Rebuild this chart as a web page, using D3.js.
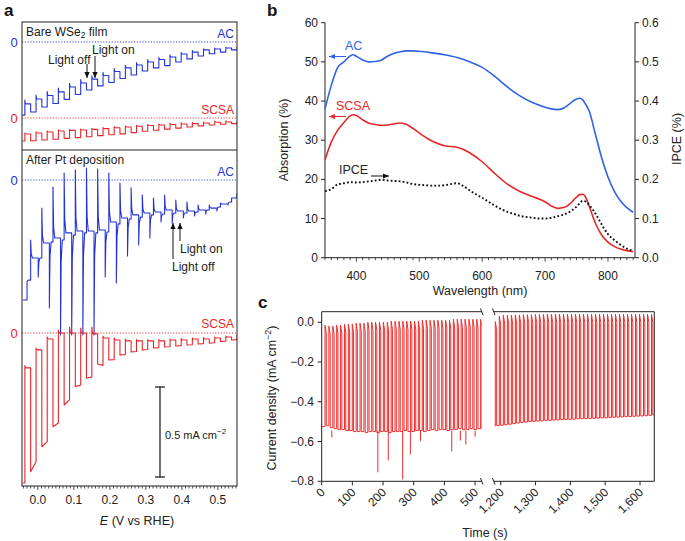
<!DOCTYPE html>
<html><head><meta charset="utf-8">
<script src="https://cdnjs.cloudflare.com/ajax/libs/d3/7.8.5/d3.min.js"></script>
<style>body{margin:0;background:#fff}svg{font-family:"Liberation Sans",Arial,sans-serif}</style>
</head><body><svg id="c" width="685" height="541"></svg>
<script>
// ---------- Panel a data (mA cm^-2 relative to each trace's zero) ----------
const chopE = [-0.036,-0.005,0.026,0.057,0.088,0.119,0.150,0.181,0.212,0.243,0.274,0.305,0.336,0.367,0.398,0.429,0.460,0.491,0.522];
const aTicks = [0.0,0.1,0.2,0.3,0.4,0.5];
// Bare WSe2, AC
const bareAcPeak  = [-0.322,-0.295,-0.275,-0.256,-0.23,-0.208,-0.188,-0.169,-0.148,-0.129,-0.114,-0.098,-0.085,-0.072,-0.058,-0.048,-0.038,-0.034,-0.029];
const bareAcDark  = [-0.344,-0.317,-0.297,-0.277,-0.25,-0.228,-0.206,-0.186,-0.164,-0.144,-0.128,-0.111,-0.097,-0.083,-0.067,-0.056,-0.044,-0.039,-0.033];
const bareAcLight = [-0.389,-0.361,-0.342,-0.319,-0.292,-0.267,-0.244,-0.225,-0.203,-0.183,-0.161,-0.144,-0.131,-0.111,-0.094,-0.078,-0.065,-0.056,-0.044];
const bareAcEnds = [-0.406,-0.028];
// Bare WSe2, SCSA
const bareScDark  = [-0.089,-0.083,-0.078,-0.072,-0.069,-0.067,-0.063,-0.059,-0.054,-0.05,-0.046,-0.042,-0.039,-0.036,-0.033,-0.031,-0.028,-0.024,-0.022];
const bareScLight = [-0.126,-0.122,-0.118,-0.113,-0.109,-0.104,-0.098,-0.093,-0.088,-0.081,-0.074,-0.068,-0.062,-0.056,-0.05,-0.044,-0.039,-0.035,-0.031];
const bareScEnds = [-0.128,-0.018];
// After Pt, AC
const ptAcDepth = [-0.567,-0.539,-0.711,-0.861,-0.861,-0.861,-0.861,-0.539,-0.572,-0.422,-0.361,-0.322,-0.233,-0.239,-0.211,-0.2,-0.189,-0.172,-0.139];
const ptAcLight = [-0.556,-0.433,-0.344,-0.333,-0.306,-0.294,-0.294,-0.289,-0.244,-0.217,-0.206,-0.194,-0.189,-0.183,-0.183,-0.178,-0.167,-0.15,-0.122];
const ptAcTip   = [-0.333,-0.156,-0.039,0.039,0.056,0.067,0.061,0.039,-0.017,-0.044,-0.083,-0.1,-0.083,-0.111,-0.122,-0.139,-0.139,-0.128,-0.1];
const ptAcDark  = [-0.433,-0.35,-0.322,-0.294,-0.283,-0.283,-0.278,-0.233,-0.211,-0.194,-0.183,-0.178,-0.167,-0.172,-0.172,-0.167,-0.156,-0.133,-0.1];
const ptAcEnds = [-0.667,-0.072];
// After Pt, SCSA
const ptScPeak  = [-0.180,-0.083,-0.022,0.017,0.033,0.028,0.033,-0.017,-0.028,-0.033,-0.036,-0.036,-0.036,-0.033,-0.031,-0.028,-0.025,-0.022,-0.017];
const ptScDark  = [-0.194,-0.094,-0.033,0.0,0.0,0.0,-0.005,-0.028,-0.039,-0.044,-0.044,-0.044,-0.044,-0.039,-0.039,-0.033,-0.033,-0.028,-0.022];
const ptScLightStart = [-0.771,-0.632,-0.521,-0.40,-0.298,-0.25,-0.172,-0.15,-0.122,-0.105,-0.094,-0.083,-0.078,-0.072,-0.067,-0.061,-0.056,-0.047,-0.039];
const ptScLightEnd   = [-0.715,-0.604,-0.50,-0.372,-0.289,-0.245,-0.18,-0.148,-0.12,-0.103,-0.092,-0.081,-0.076,-0.07,-0.065,-0.059,-0.054,-0.045,-0.037];
const ptScEnds = [-0.833,-0.011];

// ---------- Panel b data ----------
const wl = [350,360,370,380,390,395,400,410,420,430,440,450,460,470,480,490,500,520,540,560,580,600,620,640,660,680,700,710,720,730,740,750,755,760,765,770,780,790,800,810,820,830,840];
const absAC = [38,44,48.5,50,51.5,51.8,51.4,50.5,50.0,50.1,50.5,51.5,52.2,52.6,52.8,52.8,52.7,52.3,51.8,51.1,50.0,48.6,46.3,43.6,41.3,39.6,38.4,38.0,37.8,38.2,39.4,40.5,40.7,40.3,39.0,37.5,31.5,25.5,20.6,17,14.5,12.8,11.6];
const absSC = [25,29.5,32.5,34.5,36.2,36.5,36.3,35.2,34.3,34.0,33.8,33.9,34.2,34.4,34.0,33.0,31.8,29.8,28.6,28.2,26.8,24.5,21.5,18.8,16.9,15.6,14.3,13.2,12.6,12.8,13.8,15.5,16.1,16.2,15.3,13.2,8.8,5.8,4.0,2.9,2.2,1.8,1.5];
const ipceWl = [350,360,370,380,390,400,410,420,430,440,450,460,470,480,490,500,510,520,530,540,550,560,570,580,590,600,610,620,630,640,650,660,670,680,690,700,710,720,730,740,750,760,765,770,780,790,800,810,820,830,840];
const ipce = [0.17,0.175,0.187,0.19,0.193,0.192,0.193,0.195,0.197,0.199,0.197,0.196,0.195,0.192,0.188,0.186,0.185,0.184,0.184,0.185,0.188,0.19,0.183,0.172,0.162,0.153,0.143,0.133,0.124,0.117,0.112,0.107,0.104,0.102,0.1,0.1,0.102,0.106,0.11,0.118,0.13,0.145,0.143,0.135,0.113,0.085,0.06,0.045,0.033,0.023,0.018];
const bAbsTicks = [0,10,20,30,40,50,60];
const bIpceTicks = [0,0.1,0.2,0.3,0.4,0.5,0.6];
const bWlTicks = [400,500,600,700,800];

// ---------- Panel c data ----------
const cLeftT = [10.8,23.5,36.2,48.8,61.5,74.2,86.9,99.6,112.2,124.9,137.6,150.3,163.0,175.6,188.3,201.0,213.7,226.4,239.0,251.7,264.4,277.1,289.8,302.4,315.1,327.8,340.5,353.2,365.8,378.5,391.2,403.9,416.6,429.2,441.9,454.6,467.3,480.0,492.6,505.3,518.0];
const cLeftHigh = [-0.015,-0.02,-0.02,-0.015,-0.015,-0.01,-0.01,-0.01,-0.005,-0.005,-0.005,0,0,0,0,0,0,0.005,0.005,0.005,0.005,0.005,0.005,0.005,0.005,0.01,0.01,0.01,0.01,0.01,0.01,0.01,0.01,0.015,0.015,0.015,0.015,0.015,0.015,0.015,0.015];
const cLeftLow = [-0.52,-0.53,-0.535,-0.54,-0.54,-0.545,-0.545,-0.55,-0.55,-0.55,-0.555,-0.55,-0.55,-0.555,-0.55,-0.55,-0.555,-0.55,-0.55,-0.55,-0.545,-0.55,-0.55,-0.545,-0.545,-0.55,-0.545,-0.54,-0.545,-0.54,-0.54,-0.545,-0.54,-0.54,-0.535,-0.54,-0.54,-0.535,-0.54,-0.535,-0.54];
const cSpikeT = [33,183,217,264,289,322,424,452,470,500];
const cSpikeV = [-0.58,-0.755,-0.695,-0.79,-0.665,-0.598,-0.65,-0.595,-0.615,-0.576];
const cRightT = [1184.5,1196.0,1207.5,1219.0,1230.5,1242.0,1253.5,1265.0,1276.5,1288.0,1299.5,1311.0,1322.5,1334.0,1345.5,1357.0,1368.5,1380.0,1391.5,1403.0,1414.5,1426.0,1437.5,1449.0,1460.5,1472.0,1483.5,1495.0,1506.5,1518.0,1529.5,1541.0,1552.5,1564.0,1575.5,1587.0,1598.5,1610.0,1621.5,1633.0];
const cRightHigh = [0.003,0.03,0.035,0.035,0.036,0.037,0.037,0.038,0.038,0.038,0.039,0.039,0.039,0.04,0.04,0.04,0.04,0.04,0.04,0.04,0.04,0.04,0.04,0.04,0.04,0.04,0.04,0.04,0.04,0.04,0.04,0.04,0.04,0.04,0.04,0.04,0.04,0.04,0.04,0.04];
const cRightLow = [-0.52,-0.518,-0.516,-0.513,-0.51,-0.507,-0.504,-0.502,-0.5,-0.498,-0.497,-0.496,-0.494,-0.493,-0.492,-0.491,-0.49,-0.489,-0.488,-0.487,-0.486,-0.485,-0.485,-0.484,-0.483,-0.482,-0.481,-0.48,-0.479,-0.478,-0.477,-0.476,-0.475,-0.474,-0.473,-0.472,-0.471,-0.47,-0.468,-0.466];
const cYTicks = [-0.8,-0.6,-0.4,-0.2,0.0];
const cLeftTicks = [0,100,200,300,400,500];
const cRightTicks = [1200,1300,1400,1500,1600];

// ---------- drawing ----------
const svg = d3.select("#c");
const BLUE = "#2433d4", RED = "#e8262a", BBLUE = "#2e63e8";
const defs = svg.append("defs");
function clip(id,x,y,w,h){defs.append("clipPath").attr("id",id).append("rect").attr("x",x).attr("y",y).attr("width",w).attr("height",h);}
function text(x,y,s,o={}){
  const t = svg.append("text").attr("x",x).attr("y",y).text(s)
    .attr("font-size",o.size||12).attr("fill",o.fill||"#222")
    .attr("text-anchor",o.anchor||"start").attr("dominant-baseline","central");
  if(o.weight) t.attr("font-weight",o.weight);
  if(o.transform) t.attr("transform",o.transform);
  return t;
}
function seg(x1,y1,x2,y2,c="#222",w=1){svg.append("line").attr("x1",x1).attr("y1",y1).attr("x2",x2).attr("y2",y2).attr("stroke",c).attr("stroke-width",w);}
function arrow(x1,y1,x2,y2,c="#111"){
  seg(x1,y1,x2,y2,c,1);
  const a=Math.atan2(y2-y1,x2-x1), L=6, W=2.6;
  const p=[[x2,y2],[x2-L*Math.cos(a)+W*Math.sin(a), y2-L*Math.sin(a)-W*Math.cos(a)],[x2-L*Math.cos(a)-W*Math.sin(a), y2-L*Math.sin(a)+W*Math.cos(a)]];
  svg.append("path").attr("d","M"+p.join("L")+"Z").attr("fill",c);
}

// ===== Panel a =====
const xA = d3.scaleLinear().domain([-0.044,0.553]).range([22,237]);
const yZero = z => d3.scaleLinear().domain([0,-1]).range([z, z+180]);
const yTopAC = yZero(42), yTopSC = yZero(118), yBotAC = yZero(180), yBotSC = yZero(333);
clip("clipATop",22,22,215,128); clip("clipABot",22,150,215,336);

function chopPath(startE,startV,events,endE,endV,dec){
  const pts=[[startE,startV]]; let cur=startV;
  events.forEach(ev=>{
    pts.push([ev.e,cur]); pts.push([ev.e,ev.spike]);
    if(ev.spike!==ev.level){ pts.push([ev.e+dec*0.35, ev.level+(ev.spike-ev.level)*0.22]); pts.push([ev.e+dec, ev.level]); }
    cur = (ev.levelEnd!==undefined)? ev.levelEnd : ev.level;
  });
  pts.push([endE,cur]); pts.push([endE,endV]);
  return pts;
}
function drawTrace(pts,ys,color,clipId,w=1.1){
  svg.append("path").attr("d", d3.line().x(d=>xA(d[0])).y(d=>ys(d[1]))(pts))
    .attr("fill","none").attr("stroke",color).attr("stroke-width",w).attr("stroke-linejoin","round")
    .attr("clip-path","url(#"+clipId+")");
}
// zero lines
[[yTopAC,BLUE],[yTopSC,RED],[yBotAC,BLUE],[yBotSC,RED]].forEach(([ys,c])=>{
  svg.append("line").attr("x1",22).attr("x2",237).attr("y1",ys(0)).attr("y2",ys(0))
    .attr("stroke",c).attr("stroke-width",0.9).attr("stroke-dasharray","1.2,1.6");
  text(14, ys(0), "0", {fill:c, size:13, anchor:"middle"});
});
// traces
let ev=[];
chopE.forEach((e,i)=>{ev.push({e:e,spike:bareAcPeak[i],level:bareAcDark[i]});ev.push({e:e+0.016,spike:bareAcLight[i],level:bareAcLight[i]});});
drawTrace(chopPath(-0.043,bareAcEnds[0],ev,0.553,bareAcEnds[1],0.003),yTopAC,BLUE,"clipATop");
ev=[];
chopE.forEach((e,i)=>{ev.push({e:e,spike:bareScDark[i]+0.006,level:bareScDark[i]});ev.push({e:e+0.016,spike:bareScLight[i],level:bareScLight[i]});});
drawTrace(chopPath(-0.043,bareScEnds[0],ev,0.553,bareScEnds[1],0.006),yTopSC,RED,"clipATop");
ev=[];
chopE.forEach((e,i)=>{ev.push({e:e+0.006,spike:ptAcDepth[i],level:ptAcLight[i]});ev.push({e:e+0.016,spike:ptAcTip[i],level:ptAcDark[i]});});
drawTrace(chopPath(-0.042,ptAcEnds[0],ev,0.553,ptAcEnds[1],0.005),yBotAC,BLUE,"clipABot");
ev=[];
chopE.forEach((e,i)=>{ev.push({e:e,spike:ptScPeak[i],level:ptScDark[i]});ev.push({e:e+0.016,spike:ptScLightStart[i],level:ptScLightStart[i],levelEnd:ptScLightEnd[i]});});
drawTrace(chopPath(-0.042,ptScEnds[0],ev,0.553,ptScEnds[1],0.004),yBotSC,RED,"clipABot");

// frame
svg.append("rect").attr("x",22).attr("y",22).attr("width",215).attr("height",464).attr("fill","none").attr("stroke","#222").attr("stroke-width",1);
seg(22,150,237,150);
// x axis ticks
d3.range(-4,56).forEach(k=>{ const v=k/100, x=xA(v), major=(k%10===0); seg(x,486,x,486+(major?4:2.5),"#222",0.8); });
aTicks.forEach(v=>text(xA(v),500,d3.format(".1f")(v),{size:12,anchor:"middle"}));
const et = svg.append("text").attr("x",137).attr("y",521).attr("text-anchor","middle").attr("dominant-baseline","central").attr("font-size",12.5).attr("fill","#222");
et.append("tspan").attr("font-style","italic").text("E");
et.append("tspan").text(" (V vs RHE)");
// annotations
const bt = svg.append("text").attr("x",26).attr("y",32).attr("dominant-baseline","central").attr("font-size",12).attr("fill","#222");
bt.append("tspan").text("Bare WSe");
bt.append("tspan").attr("font-size",8.5).attr("dy",3).text("2");
bt.append("tspan").attr("dy",-3).text(" film");
text(26,160,"After Pt deposition",{size:12});
text(234,34,"AC",{fill:BLUE,anchor:"end",size:12});
text(234,110,"SCSA",{fill:RED,anchor:"end",size:12});
text(234,172,"AC",{fill:BLUE,anchor:"end",size:12});
text(234,324,"SCSA",{fill:RED,anchor:"end",size:12});
text(48,60,"Light off",{size:12});
text(92,50,"Light on",{size:12});
arrow(87,64,87,78); arrow(95,56,95,78);
arrow(173,259,173,223); arrow(180,241,180,223);
text(180,249,"Light on",{size:12});
text(172,267,"Light off",{size:12});
// scale bar (0.5 mA cm-2)
const sb0 = yBotSC(-0.3), sb1 = yBotSC(-0.8);
seg(160,sb0,160,sb1,"#111",1.2); seg(155,sb0,165,sb0,"#111",1.2); seg(155,sb1,165,sb1,"#111",1.2);
const st = svg.append("text").attr("x",165).attr("y",435).attr("dominant-baseline","central").attr("font-size",11).attr("fill","#222");
st.append("tspan").text("0.5 mA cm");
st.append("tspan").attr("font-size",8).attr("dy",-4).text("\u22122");

// ===== Panel b =====
const xB = d3.scaleLinear().domain([350,843]).range([325,635]);
const yB = d3.scaleLinear().domain([0,60]).range([257.7,22.7]);
const yB2 = d3.scaleLinear().domain([0,0.6]).range([257.7,22.7]);
seg(325,22.7,325,257.7); seg(635,22.7,635,257.7); seg(325,257.7,635,257.7);
bAbsTicks.forEach(v=>{ seg(321,yB(v),325,yB(v)); text(318,yB(v),String(v),{size:12,anchor:"end"}); });
bIpceTicks.forEach(v=>{ seg(635,yB2(v),639,yB2(v)); text(642,yB2(v),d3.format(".1f")(v),{size:12}); });
d3.range(350,850,10).forEach(v=>{ const x=xB(v); if(x<=635.5) seg(x,257.7,x,257.7+(v%100===0?4:2.5),"#222",0.8); });
bWlTicks.forEach(v=>text(xB(v),276,String(v),{size:12,anchor:"middle"}));
text(480,291,"Wavelength (nm)",{size:12.5,anchor:"middle"});
text(284,140,"Absorption (%)",{size:12.5,anchor:"middle",transform:"rotate(-90,284,140)"});
text(677,139,"IPCE (%)",{size:12.5,anchor:"middle",transform:"rotate(-90,677,139)"});
const lineB = d3.line().curve(d3.curveMonotoneX);
svg.append("path").attr("d", lineB.x((d,i)=>xB(wl[i])).y(d=>yB(d))(absAC)).attr("fill","none").attr("stroke",BBLUE).attr("stroke-width",1.6);
svg.append("path").attr("d", lineB.x((d,i)=>xB(wl[i])).y(d=>yB(d))(absSC)).attr("fill","none").attr("stroke",RED).attr("stroke-width",1.6);
svg.append("path").attr("d", d3.line().curve(d3.curveMonotoneX).x((d,i)=>xB(ipceWl[i])).y(d=>yB2(d))(ipce)).attr("fill","none").attr("stroke","#111").attr("stroke-width",1.9).attr("stroke-dasharray","1.8,2.2");
text(345,46,"AC",{fill:BBLUE,size:12.5});
arrow(346,56.5,329,56.5,BBLUE);
text(336,106,"SCSA",{fill:RED,size:12.5});
arrow(346,116.5,329,116.5,RED);
text(339,170,"IPCE",{size:12.5});
arrow(371,176,389,176,"#111");

// ===== Panel c =====
const xCL = d3.scaleLinear().domain([0,521.6]).range([321.7,481.7]);
const xCR = d3.scaleLinear().domain([1180.7,1641]).range([494,654.3]);
const yC = d3.scaleLinear().domain([-0.8,0.053]).range([481.3,311.7]);
clip("clipCL",321.7,311.7,160,170); clip("clipCR",494,311.7,160.3,170);
const CRED = "#ee2c2c";
function cPath(T,H,L,t0,v0,tEnd,dark){
  const pts=[[t0,v0]]; let cur=v0;
  T.forEach((t,i)=>{ pts.push([t,cur],[t,H[i]],[t+dark,H[i]-0.04],[t+dark,L[i]]); cur=L[i]; });
  pts.push([tEnd,cur]); return pts;
}
svg.append("path").attr("d", d3.line().x(d=>xCL(d[0])).y(d=>yC(d[1]))(cPath(cLeftT,cLeftHigh,cLeftLow,0,-0.525,521.6,4.2)))
  .attr("fill","none").attr("stroke",CRED).attr("stroke-width",1).attr("clip-path","url(#clipCL)");
cSpikeT.forEach((t,i)=>{ svg.append("line").attr("x1",xCL(t)).attr("x2",xCL(t)).attr("y1",yC(-0.545)).attr("y2",yC(cSpikeV[i])).attr("stroke",CRED).attr("stroke-width",1); });
svg.append("path").attr("d", d3.line().x(d=>xCR(d[0])).y(d=>yC(d[1]))(cPath(cRightT,cRightHigh,cRightLow,1182.5,-0.522,1641,3.8)))
  .attr("fill","none").attr("stroke",CRED).attr("stroke-width",1).attr("clip-path","url(#clipCR)");
// frame
seg(321.7,311.7,321.7,481.3); seg(654.3,311.7,654.3,481.3);
seg(321.7,311.7,481.7,311.7); seg(494,311.7,654.3,311.7);
seg(321.7,481.3,481.7,481.3); seg(494,481.3,654.3,481.3);
[[480.5,308.5,483,315],[492.5,308.5,495,315],[480.5,478,483,484.5],[492.5,478,495,484.5]].forEach(p=>seg(p[0],p[1],p[2],p[3],"#222",1));
cYTicks.forEach(v=>{ seg(317.7,yC(v),321.7,yC(v)); text(314,yC(v),d3.format(".1f")(v),{size:12,anchor:"end"}); });
function xLab(x,s){ svg.append("text").attr("x",0).attr("y",0).attr("text-anchor","end").attr("font-size",12).attr("fill","#222")
  .attr("transform","translate("+(x+4)+",493) rotate(-45)").text(s); }
cLeftTicks.forEach(v=>{ seg(xCL(v),481.3,xCL(v),485.3); xLab(xCL(v),d3.format(",")(v)); });
cRightTicks.forEach(v=>{ seg(xCR(v),481.3,xCR(v),485.3); xLab(xCR(v),d3.format(",")(v)); });
text(485,533,"Time (s)",{size:12.5,anchor:"middle"});
const ct = svg.append("text").attr("text-anchor","middle").attr("dominant-baseline","central").attr("font-size",12.5).attr("fill","#222")
  .attr("transform","translate(272,398) rotate(-90)");
ct.append("tspan").text("Current density (mA cm");
ct.append("tspan").attr("font-size",9).attr("dy",-4).text("\u22122");
ct.append("tspan").attr("dy",4).text(")");

// panel labels
text(4,10,"a",{size:17,weight:"bold",fill:"#111"});
text(267,10,"b",{size:17,weight:"bold",fill:"#111"});
text(258,302,"c",{size:17,weight:"bold",fill:"#111"});
</script></body></html>
